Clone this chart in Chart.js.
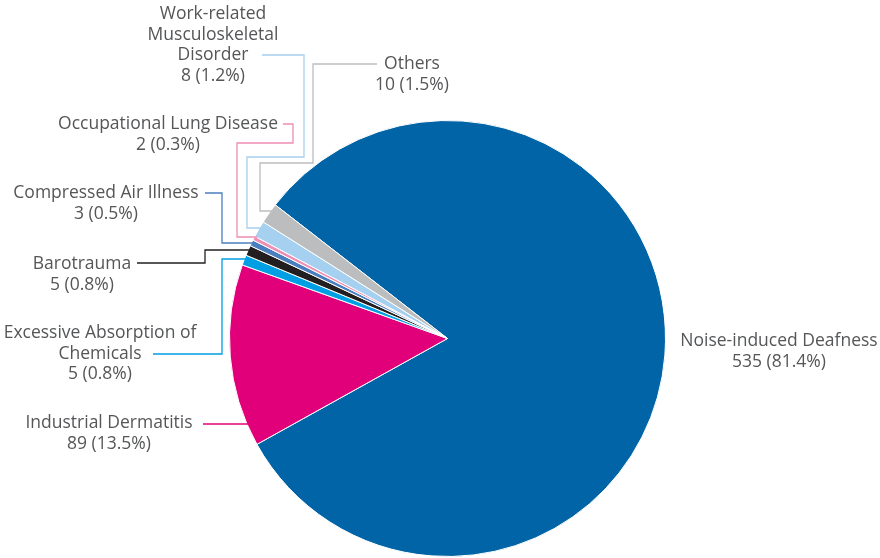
<!DOCTYPE html>
<html>
<head>
<meta charset="utf-8">
<script src="https://cdn.jsdelivr.net/npm/chart.js@4.4.1/dist/chart.umd.min.js"></script>
<style>
  html, body { margin: 0; padding: 0; background: #fff; }
  #wrap { width: 880px; height: 558px; position: relative; }
</style>
</head>
<body>
<div id="wrap"><canvas id="myChart" width="880" height="558"></canvas></div>
<script>
// data
const categories = ['Noise-induced Deafness', 'Industrial Dermatitis', 'Excessive Absorption of Chemicals',
    'Barotrauma', 'Compressed Air Illness', 'Occupational Lung Disease',
    'Work-related Musculoskeletal Disorder', 'Others'];
const cases = [535, 89, 5, 5, 3, 2, 8, 10];
const percents = ['81.4%', '13.5%', '0.8%', '0.8%', '0.5%', '0.3%', '1.2%', '1.5%'];
const colours = ['#0064a6', '#e2007a', '#009fe3', '#231f20', '#4a7fbf', '#f08db4', '#a6d0f0', '#bcbdbf'];

// label layout: text lines (name split), centre, and leader path (last point runs into the pie)
const nameLines = [
    ['Noise-induced Deafness'],
    ['Industrial Dermatitis'],
    ['Excessive Absorption of', 'Chemicals'],
    ['Barotrauma'],
    ['Compressed Air Illness'],
    ['Occupational Lung Disease'],
    ['Work-related', 'Musculoskeletal', 'Disorder'],
    ['Others']
];
const labelPos = [
    { x: 779, y: 341 }, { x: 109, y: 423 }, { x: 100, y: 333 }, { x: 82, y: 264 },
    { x: 106, y: 193 }, { x: 168, y: 124 }, { x: 213, y: 14 }, { x: 412, y: 64 }
];
const leaders = [
    null,
    [[203, 424]],
    [[153, 354], [222, 354], [222, 259]],
    [[137, 263], [205, 263], [205, 250]],
    [[205, 193], [222, 193], [222, 243]],
    [[283, 124], [293, 124], [293, 143], [237, 143], [237, 237]],
    [[262, 55], [304, 55], [304, 157], [247, 157], [247, 228]],
    [[377, 64], [313, 64], [313, 163], [260, 163], [260, 211]]
];

const labelPlugin = {
    id: 'pieLabels',
    afterDraw(chart) {
        const ctx = chart.ctx;
        const arc = chart.getDatasetMeta(0).data[0];
        const cx = arc.x, cy = arc.y, r = arc.outerRadius;
        ctx.save();
        // leader lines
        leaders.forEach((pts, i) => {
            if (!pts) return;
            const last = pts[pts.length - 1];
            const dy = last[1] - cy;
            const edgeX = cx - Math.sqrt(Math.max(r * r - dy * dy, 0)) + 3;
            ctx.beginPath();
            ctx.strokeStyle = colours[i];
            ctx.lineWidth = 1.3;
            ctx.moveTo(pts[0][0], pts[0][1]);
            pts.slice(1).forEach(p => ctx.lineTo(p[0], p[1]));
            ctx.lineTo(edgeX, last[1]);
            ctx.stroke();
        });
        // texts
        ctx.fillStyle = '#555658';
        ctx.font = '17.5px "Open Sans", sans-serif';
        ctx.textAlign = 'center';
        ctx.textBaseline = 'middle';
        const lh = 20.7;
        categories.forEach((c, i) => {
            const lines = nameLines[i].concat([cases[i] + ' (' + percents[i] + ')']);
            lines.forEach((t, k) => {
                ctx.fillText(t, labelPos[i].x, labelPos[i].y + k * lh);
            });
        });
        ctx.restore();
    }
};

new Chart(document.getElementById('myChart'), {
    type: 'pie',
    data: {
        labels: categories,
        datasets: [{
            data: cases,
            backgroundColor: colours,
            borderColor: '#ffffff',
            borderWidth: 1
        }]
    },
    options: {
        responsive: false,
        animation: false,
        rotation: -52.2,
        layout: { padding: { top: 120, bottom: 1, left: 229, right: 214 } },
        plugins: {
            legend: { display: false },
            tooltip: { enabled: false }
        }
    },
    plugins: [labelPlugin]
});
</script>
</body>
</html>
